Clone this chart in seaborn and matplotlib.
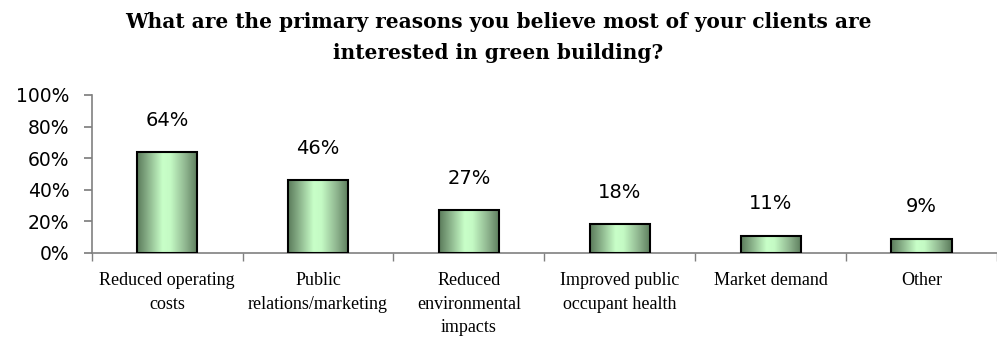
import numpy as np
import pandas as pd
import matplotlib
matplotlib.use("Agg")
import matplotlib.pyplot as plt
import seaborn as sns
from matplotlib.colors import LinearSegmentedColormap

categories = ["Reduced operating\ncosts", "Public\nrelations/marketing",
              "Reduced\nenvironmental\nimpacts", "Improved public\noccupant health",
              "Market demand", "Other"]
values = [64, 46, 27, 18, 11, 9]
value_labels = ["64%", "46%", "27%", "18%", "11%", "9%"]
yticks = [0, 20, 40, 60, 80, 100]
ytick_labels = ["0%", "20%", "40%", "60%", "80%", "100%"]
title = "What are the primary reasons you believe most of your clients are\ninterested in green building?"

sns.set_theme(style="white")
plt.rcParams['font.family'] = ['DejaVu Sans']
plt.rcParams['text.color'] = 'black'

df = pd.DataFrame({"cat": categories, "val": values})
fig = plt.figure(figsize=(9.97, 3.39), dpi=100)
ax = fig.add_axes([0.092, 0.254, 0.908, 0.466])
sns.barplot(data=df, x="cat", y="val", ax=ax, width=0.4, color="#aaddaa",
            edgecolor="black", linewidth=1.5, zorder=3)

cmap = LinearSegmentedColormap.from_list("g", [
    (0.0, "#5a7a5a"), (0.2, "#8fb88f"), (0.42, "#c8ffc8"), (0.55, "#c4fac4"),
    (0.8, "#8fb58f"), (1.0, "#5a7a5a")])
grad = np.linspace(0, 1, 256).reshape(1, -1)
for p in ax.patches:
    x0, w, h = p.get_x(), p.get_width(), p.get_height()
    im = ax.imshow(grad, cmap=cmap, aspect="auto", extent=[x0, x0 + w, 0, h],
                   zorder=3.5, interpolation="bilinear")
    im.set_clip_path(p)
    p.set_facecolor("none")
    p.set_zorder(4)

ax.set_xlim(-0.5, len(categories) - 0.5)
ax.set_ylim(0, 100)
ax.set_yticks(yticks)
ax.set_yticklabels(ytick_labels, fontsize=13.5, color="black")
ax.set_xticks(np.arange(len(categories) + 1) - 0.5, minor=True)
ax.set_xticks(np.arange(len(categories)))
ax.set_xticklabels(categories, fontsize=13, family="Liberation Serif", color="black",
                   linespacing=1.5)
ax.tick_params(axis="x", which="major", length=0, pad=14)
ax.tick_params(axis="x", which="minor", length=6, color="#808080", direction="out", bottom=True)
ax.tick_params(axis="y", length=6, color="#808080", direction="out", left=True, pad=10)
ax.set_xlabel("")
ax.set_ylabel("")
for s in ["top", "right"]:
    ax.spines[s].set_visible(False)
for s in ["left", "bottom"]:
    ax.spines[s].set_color("#808080")
    ax.spines[s].set_linewidth(1.2)

for i, (v, lab) in enumerate(zip(values, value_labels)):
    ax.annotate(lab, (i, v), xytext=(0, 16), textcoords="offset points",
                ha="center", va="bottom", fontsize=14, color="black")

fig.text(0.5, 0.965, title, ha="center", va="top", fontsize=14.5, fontweight="bold",
         family="DejaVu Serif", linespacing=1.7, color="black")

fig.savefig("out.png", dpi=100)
